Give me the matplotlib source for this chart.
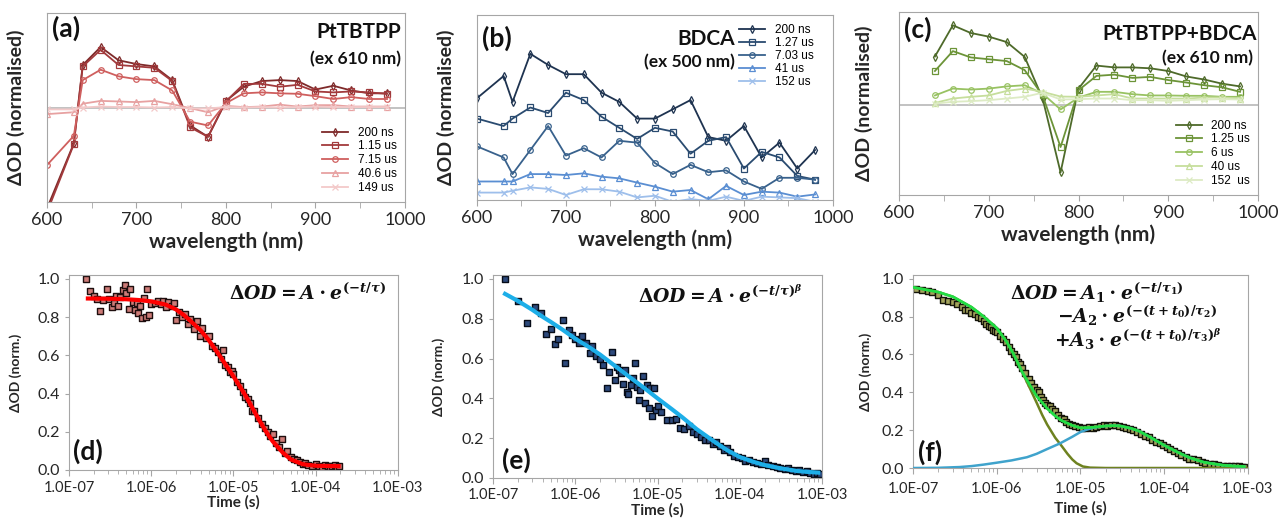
import numpy as np
import matplotlib
matplotlib.use("Agg")
import matplotlib.pyplot as plt
from matplotlib.ticker import MultipleLocator, LogLocator, NullFormatter

plt.rcParams['font.family'] = ['Lato', 'DejaVu Sans']
plt.rcParams['mathtext.fontset'] = 'custom'
plt.rcParams['mathtext.rm'] = 'DejaVu Serif:bold'
plt.rcParams['mathtext.it'] = 'DejaVu Serif:italic:bold'
plt.rcParams['mathtext.bf'] = 'DejaVu Serif:bold'

# ---------------- top row: transient absorption spectra ----------------
wl_ab = [600, 630, 640, 660, 680, 700, 720, 740, 760, 780, 800, 820, 840, 860, 880, 900, 920, 940, 960, 980]
wl_c = [640, 660, 680, 700, 720, 740, 760, 780, 800, 820, 840, 860, 880, 900, 920, 940, 960, 980]

# (a) PtTBTPP
labels_a = ['200 ns', '1.15 us', '7.15 us', '40.6 us', '149 us']
a_200ns = [-1.07, -0.38, 0.45, 0.64, 0.50, 0.46, 0.435, 0.29, -0.19, -0.31, 0.07, 0.22, 0.28, 0.29, 0.28, 0.19, 0.23, 0.18, 0.15, 0.15]
a_1p15us = [-1.11, -0.39, 0.435, 0.61, 0.45, 0.435, 0.42, 0.28, -0.21, -0.31, 0.065, 0.25, 0.25, 0.22, 0.24, 0.17, 0.16, 0.17, 0.16, 0.145]
a_7p15us = [-0.61, -0.30, 0.29, 0.40, 0.33, 0.30, 0.29, 0.18, -0.15, -0.19, 0.046, 0.15, 0.16, 0.15, 0.145, 0.12, 0.09, 0.11, 0.09, 0.09]
a_40p6us = [-0.07, -0.05, 0.04, 0.07, 0.064, 0.057, 0.07, 0.035, -0.007, -0.05, 0.018, 0.004, 0.01, 0.03, 0.01, 0.025, 0.025, 0.01, 0.01, 0.01]
a_149us = [-0.02, -0.02, 0.0, 0.01, 0.005, 0.005, 0.0, 0.005, -0.01, -0.01, 0.005, 0.0, 0.005, 0.0, 0.005, 0.01, 0.005, 0.005, 0.005, 0.005]

# (b) BDCA
labels_b = ['200 ns', '1.27 us', '7.03 us', '41 us', '152 us']
b_200ns = [0.55, 0.67, 0.53, 0.79, 0.73, 0.68, 0.68, 0.58, 0.53, 0.44, 0.44, 0.49, 0.54, 0.34, 0.32, 0.40, 0.23, 0.31, 0.17, 0.27]
b_1p27us = [0.44, 0.40, 0.44, 0.50, 0.47, 0.58, 0.54, 0.45, 0.39, 0.33, 0.39, 0.37, 0.25, 0.32, 0.34, 0.17, 0.26, 0.23, 0.13, 0.11]
b_7p03us = [0.29, 0.23, 0.14, 0.27, 0.40, 0.24, 0.28, 0.23, 0.32, 0.31, 0.20, 0.14, 0.19, 0.15, 0.16, 0.10, 0.06, 0.12, 0.12, 0.11]
b_41us = [0.10, 0.10, 0.10, 0.14, 0.14, 0.135, 0.144, 0.126, 0.117, 0.094, 0.072, 0.045, 0.054, 0.004, 0.076, 0.027, 0.045, 0.04, 0.018, 0.03]
b_152us = [0.04, 0.04, 0.05, 0.068, 0.06, 0.027, 0.058, 0.058, 0.045, 0.014, 0.023, -0.01, 0.005, -0.005, 0.018, -0.005, 0.018, 0.014, 0.01, -0.01]

# (c) PtTBTPP+BDCA
labels_c = ['200 ns', '1.25 us', '6 us', '40 us', '152  us']
c_200ns = [0.53, 0.875, 0.79, 0.75, 0.69, 0.526, 0.066, -0.75, 0.176, 0.43, 0.41, 0.41, 0.40, 0.37, 0.31, 0.276, 0.23, 0.20]
c_1p25us = [0.37, 0.59, 0.52, 0.50, 0.48, 0.38, 0.10, -0.47, 0.158, 0.316, 0.33, 0.294, 0.305, 0.27, 0.243, 0.213, 0.19, 0.14]
c_6us = [0.10, 0.176, 0.165, 0.176, 0.20, 0.213, 0.12, -0.055, 0.077, 0.14, 0.14, 0.114, 0.10, 0.10, 0.096, 0.096, 0.085, 0.085]
c_40us = [0.018, 0.066, 0.085, 0.10, 0.15, 0.176, 0.14, 0.088, 0.085, 0.10, 0.114, 0.066, 0.066, 0.066, 0.066, 0.077, 0.077, 0.066]
c_152us = [0.01, 0.03, 0.037, 0.048, 0.066, 0.085, 0.13, 0.055, 0.059, 0.066, 0.066, 0.048, 0.048, 0.04, 0.048, 0.055, 0.059, 0.055]

# ---------------- bottom row: kinetics ----------------
time_ticks = [1e-7, 1e-6, 1e-5, 1e-4, 1e-3]
time_labels = ['1.0E-07', '1.0E-06', '1.0E-05', '1.0E-04', '1.0E-03']

# (d)
d_t = [1.6e-7, 1.8e-7, 2.0e-7, 2.2e-7, 2.4e-7, 2.6e-7, 2.9e-7, 3.1e-7, 3.3e-7, 3.5e-7,
       3.7e-7, 4.0e-7, 4.2e-7, 4.5e-7, 4.8e-7, 5.0e-7, 5.3e-7, 5.6e-7, 6.0e-7, 6.3e-7,
       6.7e-7, 7.0e-7, 7.4e-7, 7.8e-7, 8.2e-7, 8.6e-7, 9.0e-7, 9.5e-7, 1.0e-6, 1.1e-6,
       1.2e-6, 1.3e-6, 1.4e-6, 1.5e-6, 1.6e-6, 1.8e-6, 1.9e-6, 2.0e-6, 2.2e-6, 2.4e-6,
       2.6e-6, 2.8e-6, 3.0e-6, 3.3e-6, 3.6e-6, 3.9e-6, 4.2e-6, 4.6e-6, 5.0e-6, 5.5e-6,
       6.0e-6, 6.5e-6, 7.0e-6, 7.5e-6, 8.0e-6, 8.5e-6, 9.0e-6, 9.5e-6, 1.0e-5, 1.1e-5,
       1.2e-5, 1.3e-5, 1.4e-5, 1.5e-5, 1.6e-5, 1.7e-5, 1.8e-5, 2.0e-5, 2.2e-5, 2.4e-5,
       2.6e-5, 2.8e-5, 3.0e-5, 3.3e-5, 3.6e-5, 3.9e-5, 4.2e-5, 4.5e-5, 5.0e-5, 5.5e-5,
       6.0e-5, 6.5e-5, 7.0e-5, 7.5e-5, 8.0e-5, 9.0e-5, 1.0e-4, 1.1e-4, 1.2e-4, 1.3e-4,
       1.4e-4, 1.5e-4, 1.6e-4, 1.7e-4, 1.8e-4, 1.9e-4]
d_od = [1.00, 0.935, 0.91, 0.895, 0.83, 0.89, 0.945, 0.895, 0.85, 0.875,
        0.91, 0.86, 0.905, 0.94, 0.965, 0.925, 0.84, 0.945, 0.88, 0.835,
        0.875, 0.82, 0.86, 0.795, 0.90, 0.80, 0.945, 0.81, 0.87, 0.875,
        0.885, 0.87, 0.885, 0.855, 0.88, 0.86, 0.875, 0.785, 0.825, 0.80,
        0.815, 0.765, 0.79, 0.74, 0.78, 0.70, 0.745, 0.69, 0.70, 0.65,
        0.64, 0.615, 0.58, 0.63, 0.55, 0.54, 0.51, 0.52, 0.50, 0.46,
        0.44, 0.41, 0.38, 0.37, 0.35, 0.31, 0.31, 0.27, 0.24, 0.22,
        0.20, 0.18, 0.19, 0.14, 0.12, 0.16, 0.09, 0.10, 0.07, 0.06,
        0.05, 0.04, 0.03, 0.035, 0.025, 0.02, 0.03, 0.02, 0.015, 0.025,
        0.02, 0.015, 0.02, 0.025, 0.015, 0.02]
d_fit_t = [1.7e-7, 3e-7, 5e-7, 7e-7, 1e-6, 1.5e-6, 2e-6, 2.5e-6, 3e-6, 4e-6, 5e-6, 7e-6,
           1e-5, 1.4e-5, 2e-5, 2.5e-5, 3e-5, 4e-5, 5e-5, 7e-5, 1e-4, 1.9e-4]
d_fit = [0.897, 0.896, 0.893, 0.889, 0.882, 0.865, 0.84, 0.81, 0.78, 0.73, 0.68, 0.59,
         0.49, 0.39, 0.27, 0.20, 0.15, 0.09, 0.055, 0.03, 0.022, 0.02]

# (e)
e_t = [1.4e-7, 2.0e-7, 2.6e-7, 3.2e-7, 3.8e-7, 4.4e-7, 5.0e-7, 5.6e-7, 6.2e-7, 7.0e-7,
       7.6e-7, 8.4e-7, 9.2e-7, 1.0e-6, 1.1e-6, 1.2e-6, 1.35e-6, 1.5e-6, 1.6e-6, 1.8e-6,
       2.0e-6, 2.2e-6, 2.4e-6, 2.6e-6, 2.8e-6, 3.0e-6, 3.2e-6, 3.4e-6, 3.6e-6, 3.8e-6,
       4.0e-6, 4.2e-6, 4.4e-6, 4.7e-6, 5.0e-6, 5.3e-6, 5.6e-6, 5.9e-6, 6.2e-6, 6.6e-6,
       7.0e-6, 7.4e-6, 7.8e-6, 8.2e-6, 8.6e-6, 9.0e-6, 9.5e-6, 1.0e-5, 1.1e-5, 1.3e-5,
       1.5e-5, 1.7e-5, 1.9e-5, 2.1e-5, 2.4e-5, 2.7e-5, 3.0e-5, 3.4e-5, 3.8e-5, 4.2e-5,
       4.7e-5, 5.2e-5, 5.8e-5, 6.4e-5, 7.0e-5, 7.7e-5, 8.5e-5, 9.5e-5, 1.05e-4, 1.15e-4,
       1.3e-4, 1.45e-4, 1.6e-4, 1.8e-4, 2.0e-4, 2.2e-4, 2.5e-4, 2.8e-4, 3.1e-4, 3.5e-4,
       3.9e-4, 4.3e-4, 4.8e-4, 5.3e-4, 5.9e-4, 6.5e-4, 7.2e-4, 8.0e-4, 8.8e-4, 9.5e-4]
e_od = [1.0, 0.89, 0.78, 0.86, 0.83, 0.725, 0.75, 0.675, 0.70, 0.795,
        0.58, 0.745, 0.72, 0.70, 0.68, 0.715, 0.68, 0.63, 0.665, 0.615,
        0.60, 0.57, 0.45, 0.535, 0.635, 0.49, 0.56, 0.545, 0.525, 0.47,
        0.545, 0.43, 0.42, 0.465, 0.50, 0.58, 0.455, 0.39, 0.44, 0.51,
        0.375, 0.465, 0.35, 0.45, 0.31, 0.45, 0.34, 0.36, 0.33, 0.29,
        0.29, 0.295, 0.25, 0.245, 0.26, 0.23, 0.22, 0.205, 0.19, 0.19,
        0.17, 0.18, 0.16, 0.14, 0.15, 0.13, 0.11, 0.105, 0.10, 0.085,
        0.09, 0.08, 0.075, 0.07, 0.085, 0.065, 0.06, 0.055, 0.05, 0.045,
        0.05, 0.04, 0.035, 0.04, 0.03, 0.035, 0.025, 0.02, 0.025, 0.02]
e_fit_t = [1.4e-7, 2e-7, 3e-7, 4e-7, 5e-7, 7e-7, 1e-6, 1.5e-6, 2e-6, 3e-6, 5e-6, 7e-6,
           1e-5, 1.5e-5, 2e-5, 3e-5, 5e-5, 7e-5, 1e-4, 1.5e-4, 2e-4, 3e-4, 5e-4, 7e-4, 9e-4]
e_fit = [0.925, 0.89, 0.845, 0.81, 0.785, 0.745, 0.70, 0.655, 0.62, 0.565, 0.495, 0.45,
         0.40, 0.345, 0.305, 0.245, 0.18, 0.14, 0.105, 0.08, 0.065, 0.05, 0.035, 0.03, 0.027]

# (f)
f_t = [1.1e-7, 1.3e-7, 1.5e-7, 1.7e-7, 2.0e-7, 2.3e-7, 2.6e-7, 3.0e-7, 3.4e-7, 3.8e-7,
       4.2e-7, 4.6e-7, 5.0e-7, 5.5e-7, 6.0e-7, 6.5e-7, 7.0e-7, 7.5e-7, 8.0e-7, 8.5e-7,
       9.0e-7, 9.5e-7, 1.0e-6, 1.1e-6, 1.2e-6, 1.3e-6, 1.4e-6, 1.5e-6, 1.6e-6, 1.7e-6,
       1.8e-6, 1.9e-6, 2.0e-6, 2.2e-6, 2.4e-6, 2.6e-6, 2.8e-6, 3.0e-6, 3.2e-6, 3.4e-6,
       3.6e-6, 3.8e-6, 4.0e-6, 4.3e-6, 4.6e-6, 5.0e-6, 5.4e-6, 5.8e-6, 6.3e-6, 6.8e-6,
       7.4e-6, 8.0e-6, 8.7e-6, 9.5e-6, 1.05e-5, 1.15e-5, 1.25e-5, 1.4e-5, 1.55e-5, 1.7e-5,
       1.9e-5, 2.1e-5, 2.3e-5, 2.6e-5, 2.9e-5, 3.2e-5, 3.5e-5, 3.9e-5, 4.3e-5, 4.8e-5,
       5.3e-5, 5.9e-5, 6.5e-5, 7.2e-5, 8.0e-5, 8.8e-5, 9.7e-5, 1.07e-4, 1.18e-4, 1.3e-4,
       1.45e-4, 1.6e-4, 1.8e-4, 2.0e-4, 2.2e-4, 2.5e-4, 2.8e-4, 3.1e-4, 3.5e-4, 3.9e-4,
       4.4e-4, 5.0e-4, 5.6e-4, 6.3e-4, 7.0e-4, 7.8e-4, 8.6e-4, 9.0e-4]
f_od = [0.945, 0.94, 0.935, 0.93, 0.915, 0.89, 0.885, 0.875, 0.865, 0.85,
        0.835, 0.835, 0.82, 0.815, 0.80, 0.795, 0.775, 0.76, 0.75, 0.745,
        0.73, 0.725, 0.72, 0.70, 0.68, 0.665, 0.64, 0.62, 0.60, 0.585,
        0.56, 0.55, 0.53, 0.50, 0.47, 0.45, 0.43, 0.41, 0.40, 0.375,
        0.36, 0.345, 0.335, 0.325, 0.31, 0.30, 0.28, 0.265, 0.26, 0.245,
        0.23, 0.225, 0.22, 0.215, 0.21, 0.21, 0.215, 0.21, 0.215, 0.22,
        0.225, 0.22, 0.225, 0.225, 0.22, 0.215, 0.21, 0.205, 0.20, 0.19,
        0.18, 0.17, 0.165, 0.15, 0.14, 0.13, 0.12, 0.11, 0.10, 0.09,
        0.08, 0.07, 0.06, 0.05, 0.045, 0.04, 0.03, 0.025, 0.02, 0.02,
        0.015, 0.012, 0.01, 0.01, 0.008, 0.008, 0.007, 0.006]
f_fit_t = [1e-7, 2e-7, 3e-7, 5e-7, 7e-7, 1e-6, 1.3e-6, 1.6e-6, 2e-6, 2.4e-6, 3e-6, 4e-6,
           5e-6, 6e-6, 8e-6, 1e-5, 1.4e-5, 2e-5, 2.5e-5, 3e-5, 4e-5, 5e-5, 7e-5, 1e-4,
           1.5e-4, 2e-4, 3e-4, 5e-4, 7e-4, 9e-4]
f_fit = [0.955, 0.93, 0.905, 0.85, 0.80, 0.74, 0.67, 0.60, 0.51, 0.45, 0.38, 0.315,
         0.275, 0.25, 0.225, 0.212, 0.215, 0.222, 0.224, 0.222, 0.21, 0.195, 0.16, 0.12,
         0.08, 0.055, 0.03, 0.015, 0.01, 0.008]
f_c1_t = [1e-7, 2e-7, 3e-7, 5e-7, 7e-7, 1e-6, 1.3e-6, 1.6e-6, 2e-6, 2.5e-6, 3e-6, 3.5e-6,
          4e-6, 5e-6, 6e-6, 7e-6, 8e-6, 9e-6, 1.07e-5, 1.3e-5, 2e-5, 1e-3]
f_c1 = [0.955, 0.93, 0.905, 0.85, 0.80, 0.74, 0.67, 0.60, 0.51, 0.42, 0.345, 0.28,
        0.23, 0.16, 0.115, 0.075, 0.045, 0.025, 0.008, 0.002, 0.0, 0.0]
f_c3_t = [1e-7, 2e-7, 3.6e-7, 5e-7, 7e-7, 1e-6, 1.5e-6, 2.3e-6, 3e-6, 4e-6, 5.7e-6, 8e-6,
          1e-5, 1.2e-5, 1.4e-5, 1.7e-5, 2e-5, 2.5e-5, 3e-5, 4e-5, 5e-5, 7e-5, 1e-4, 1.5e-4,
          2e-4, 3e-4, 5e-4, 7e-4, 9e-4]
f_c3 = [0.0, 0.001, 0.005, 0.01, 0.018, 0.028, 0.04, 0.057, 0.075, 0.10, 0.13, 0.165,
        0.19, 0.203, 0.212, 0.218, 0.222, 0.224, 0.222, 0.21, 0.195, 0.16, 0.12, 0.08,
        0.055, 0.03, 0.015, 0.01, 0.008]

FRAME = '#A6A6A6'
TXT = '#262626'
markers = ['d', 's', 'o', '^', 'x']


def spectrum_panel(ax, wl, series, labels, colors, ylim, zero_line):
    for y, lab, col, mk in zip(series, labels, colors, markers):
        ax.plot(wl, y, color=col, lw=1.3, marker=mk, ms=4, mfc='none', mew=0.9, label=lab)
    if zero_line:
        ax.axhline(0, color='#BDBDBD', lw=1.3, zorder=0)
    ax.set_xlim(600, 1000)
    ax.set_ylim(*ylim)
    ax.set_yticks([])
    ax.xaxis.set_major_locator(MultipleLocator(100))
    ax.xaxis.set_minor_locator(MultipleLocator(50))
    ax.tick_params(axis='x', which='both', direction='out', color=FRAME, length=4,
                   labelsize=13, labelcolor=TXT, pad=3)
    for s in ax.spines.values():
        s.set_color(FRAME)
    ax.set_xlabel('wavelength (nm)', fontsize=15, fontweight='bold', color=TXT, labelpad=3)
    ax.set_ylabel('ΔOD (normalised)', fontsize=14, fontweight='bold', color=TXT)


def kinetics_panel(ax, pad):
    ax.set_xscale('log')
    ax.set_xlim(1e-7, 1e-3)
    ax.set_ylim(0, 1.02)
    ax.set_xticks(time_ticks)
    ax.set_xticklabels(time_labels)
    ax.xaxis.set_minor_locator(LogLocator(base=10, subs=np.arange(2, 10)))
    ax.xaxis.set_minor_formatter(NullFormatter())
    ax.set_yticks(np.arange(0, 1.01, 0.2))
    ax.set_yticklabels(['%.1f' % v for v in np.arange(0, 1.01, 0.2)])
    ax.tick_params(axis='x', which='both', direction='out', color=FRAME, length=4,
                   labelsize=10.5, labelcolor=TXT, pad=pad)
    ax.tick_params(axis='x', which='minor', length=3)
    ax.tick_params(axis='y', direction='out', color=FRAME, length=3,
                   labelsize=11.5, labelcolor=TXT)
    for s in ax.spines.values():
        s.set_color(FRAME)
    ax.set_xlabel('Time (s)', fontsize=11, fontweight='bold', color=TXT, labelpad=0)
    ax.set_ylabel('ΔOD (norm.)', fontsize=10, fontweight='bold', color=TXT, labelpad=1)


fig = plt.figure(figsize=(12.79, 5.2), dpi=100)

# ---- (a)
ax = fig.add_axes([0.0367, 0.6115, 0.2799, 0.3635])
spectrum_panel(ax, wl_ab, [a_200ns, a_1p15us, a_7p15us, a_40p6us, a_149us], labels_a,
               ['#7E2A2A', '#A23A3C', '#CF5F5E', '#E7A1A1', '#F3C9C9'], (-1.0, 1.0), True)
ax.yaxis.set_label_coords(-0.061, 0.5)
ax.legend(loc='lower right', frameon=False, handlelength=2.2,
          labelspacing=0.15, borderaxespad=0.3, prop={'family': 'Liberation Sans', 'size': 8.5})
ax.text(0.015, 0.985, '(a)', transform=ax.transAxes, ha='left', va='top',
        fontsize=19, fontweight='bold', color='#111111')
ax.text(0.99, 0.955, 'PtTBTPP', transform=ax.transAxes, ha='right', va='top',
        fontsize=15, fontweight='bold', color='#111111')
ax.text(0.99, 0.80, '(ex 610 nm)', transform=ax.transAxes, ha='right', va='top',
        fontsize=12.5, fontweight='bold', color='#111111')

# ---- (b)
ax = fig.add_axes([0.3729, 0.6154, 0.2783, 0.3558])
spectrum_panel(ax, wl_ab, [b_200ns, b_1p27us, b_7p03us, b_41us, b_152us], labels_b,
               ['#1E3350', '#2A4B70', '#38618C', '#5A8ED2', '#9EBFEB'], (0.0, 1.0), False)
ax.yaxis.set_label_coords(-0.062, 0.5)
ax.legend(loc='upper right', bbox_to_anchor=(0.975, 1.01), frameon=False, handlelength=2.2,
          labelspacing=0.1, prop={'family': 'Liberation Sans', 'size': 8.5})
ax.text(0.015, 0.94, '(b)', transform=ax.transAxes, ha='left', va='top',
        fontsize=19, fontweight='bold', color='#111111')
ax.text(0.725, 0.925, 'BDCA', transform=ax.transAxes, ha='right', va='top',
        fontsize=15, fontweight='bold', color='#111111')
ax.text(0.725, 0.79, '(ex 500 nm)', transform=ax.transAxes, ha='right', va='top',
        fontsize=12.5, fontweight='bold', color='#111111')

# ---- (c)
ax = fig.add_axes([0.7029, 0.625, 0.2807, 0.3519])
spectrum_panel(ax, wl_c, [c_200ns, c_1p25us, c_6us, c_40us, c_152us], labels_c,
               ['#4E6A2A', '#6C9438', '#98C262', '#C6DE9C', '#DDEBC4'], (-1.0, 1.022), True)
ax.yaxis.set_label_coords(-0.072, 0.5)
ax.legend(loc='lower right', frameon=False, handlelength=2.2, labelspacing=0.15,
          borderaxespad=0.3, prop={'family': 'Liberation Sans', 'size': 8.5})
ax.text(0.015, 0.975, '(c)', transform=ax.transAxes, ha='left', va='top',
        fontsize=19, fontweight='bold', color='#111111')
ax.text(0.997, 0.935, 'PtTBTPP+BDCA', transform=ax.transAxes, ha='right', va='top',
        fontsize=15, fontweight='bold', color='#111111')
ax.text(0.985, 0.79, '(ex 610 nm)', transform=ax.transAxes, ha='right', va='top',
        fontsize=12.5, fontweight='bold', color='#111111')

# ---- (d)
ax = fig.add_axes([0.0539, 0.0962, 0.2572, 0.375])
kinetics_panel(ax, 4)
ax.scatter(d_t, d_od, marker='s', s=22, facecolor='#CD7B77', edgecolor='#1E0E0E', linewidth=1.0, zorder=2)
ax.plot(d_fit_t, d_fit, color='#FF0000', lw=3, zorder=3)
ax.yaxis.set_label_coords(-0.143, 0.5)
ax.text(0.012, 0.03, '(d)', transform=ax.transAxes, ha='left', va='bottom',
        fontsize=19, fontweight='bold', color='#111111')
ax.text(0.965, 0.91, r'$\Delta OD = A\cdot e^{(-t/\tau)}$', transform=ax.transAxes,
        ha='right', va='center', fontsize=13.5, color='#111111')

# ---- (e)
ax = fig.add_axes([0.3855, 0.0808, 0.2572, 0.3904])
kinetics_panel(ax, 3)
ax.scatter(e_t, e_od, marker='s', s=22, facecolor='#2D4A7C', edgecolor='#060C18', linewidth=1.0, zorder=2)
ax.plot(e_fit_t, e_fit, color='#1DAEE8', lw=3, zorder=3)
ax.yaxis.set_label_coords(-0.146, 0.5)
ax.xaxis.labelpad = 1
ax.text(0.027, 0.025, '(e)', transform=ax.transAxes, ha='left', va='bottom',
        fontsize=19, fontweight='bold', color='#111111')
ax.text(0.94, 0.90, r'$\Delta OD = A\cdot e^{(-t/\tau)^{\beta}}$', transform=ax.transAxes,
        ha='right', va='center', fontsize=13.5, color='#111111')

# ---- (f)
ax = fig.add_axes([0.7138, 0.10, 0.2619, 0.3712])
kinetics_panel(ax, 6)
ax.xaxis.labelpad = 4
ax.scatter(f_t, f_od, marker='s', s=22, facecolor='#A3A35C', edgecolor='#14140A', linewidth=1.0, zorder=2)
ax.plot(f_c1_t, f_c1, color='#6E8220', lw=1.8, zorder=3)
ax.plot(f_c3_t, f_c3, color='#3FA3CC', lw=1.8, zorder=3)
ax.plot(f_fit_t, f_fit, color='#22DD44', lw=2.0, zorder=4)
ax.yaxis.set_label_coords(-0.122, 0.5)
ax.text(0.015, 0.015, '(f)', transform=ax.transAxes, ha='left', va='bottom',
        fontsize=19, fontweight='bold', color='#111111')
ax.text(0.29, 0.91, r'$\Delta OD = A_1\cdot e^{(-t/\tau_1)}$', transform=ax.transAxes,
        ha='left', va='center', fontsize=13.5, color='#111111')
ax.text(0.43, 0.79, r'$-A_2\cdot e^{(-(t+t_0)/\tau_2)}$', transform=ax.transAxes,
        ha='left', va='center', fontsize=13.5, color='#111111')
ax.text(0.42, 0.665, r'$+A_3\cdot e^{(-(t+t_0)/\tau_3)^{\beta}}$', transform=ax.transAxes,
        ha='left', va='center', fontsize=13.5, color='#111111')

fig.savefig('out.png', dpi=100)
